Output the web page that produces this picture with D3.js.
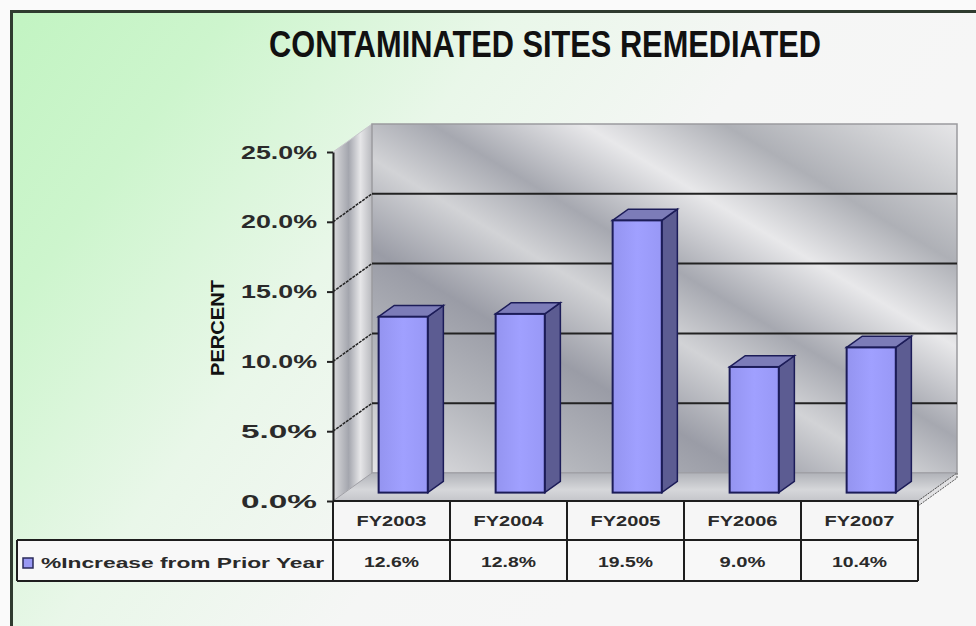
<!DOCTYPE html>
<html>
<head>
<meta charset="utf-8">
<script src="https://cdn.jsdelivr.net/npm/d3@7"></script>
<style>
  body { margin: 0; background: #fafafa; }
  text { font-family: "Liberation Sans", Arial, sans-serif; }
</style>
</head>
<body>
<script>
// Chart data
var years = ["FY2003", "FY2004", "FY2005", "FY2006", "FY2007"];
var increase = [12.6, 12.8, 19.5, 9.0, 10.4];
var yTicks = [0, 5, 10, 15, 20, 25];
var seriesName = "%Increase from Prior Year";
var title = "CONTAMINATED SITES REMEDIATED";

var W = 976, H = 626;
var DX = 39, DY = -28;          // 3D depth offset of the plot box
var f0 = 0.3, f1 = 0.7;         // bar front / back depth fractions
var fmt = function (d) { return d3.format(".1f")(d) + "%"; };

var svg = d3.select("body").append("svg")
    .attr("width", W)
    .attr("height", H);

var defs = svg.append("defs");

// Background gradient (green top-left fading to white)
var bg = defs.append("linearGradient").attr("id", "bg")
    .attr("x1", 0).attr("y1", 0).attr("x2", 0.85).attr("y2", 0.4);
bg.append("stop").attr("offset", 0).attr("stop-color", "#c2f4c2");
bg.append("stop").attr("offset", 0.22).attr("stop-color", "#cdf5cd");
bg.append("stop").attr("offset", 0.5).attr("stop-color", "#e9f7e9");
bg.append("stop").attr("offset", 0.78).attr("stop-color", "#f5f6f5");
bg.append("stop").attr("offset", 1).attr("stop-color", "#f6f6f6");

// Silver back wall
var wall = defs.append("linearGradient").attr("id", "wall")
    .attr("x1", 0).attr("y1", 1).attr("x2", 1).attr("y2", 0);
[[0, "#e4e4e6"], [0.18, "#b4b6bc"], [0.32, "#9a9ca6"], [0.45, "#d2d3d6"],
 [0.55, "#a6a8b0"], [0.68, "#e8e8ea"], [0.8, "#aeb0b6"], [0.92, "#d0d1d4"], [1, "#e6e6e8"]]
  .forEach(function (s) { wall.append("stop").attr("offset", s[0]).attr("stop-color", s[1]); });

var side = defs.append("linearGradient").attr("id", "side")
    .attr("x1", 0).attr("y1", 0).attr("x2", 1).attr("y2", 0);
[[0, "#dcdcde"], [0.4, "#a4a6ae"], [0.7, "#e6e6e8"], [1, "#b8b9be"]]
  .forEach(function (s) { side.append("stop").attr("offset", s[0]).attr("stop-color", s[1]); });

var floor = defs.append("linearGradient").attr("id", "floor")
    .attr("x1", 0).attr("y1", 0).attr("x2", 0).attr("y2", 1);
floor.append("stop").attr("offset", 0).attr("stop-color", "#b0b2b8");
floor.append("stop").attr("offset", 0.6).attr("stop-color", "#d6d7da");
floor.append("stop").attr("offset", 1).attr("stop-color", "#c4c5ca");

var barGrad = defs.append("linearGradient").attr("id", "barFront")
    .attr("x1", 0).attr("y1", 0).attr("x2", 1).attr("y2", 0);
barGrad.append("stop").attr("offset", 0).attr("stop-color", "#9494f0");
barGrad.append("stop").attr("offset", 0.5).attr("stop-color", "#a0a0ff");
barGrad.append("stop").attr("offset", 1).attr("stop-color", "#9898f6");

// Background and frame
svg.append("rect").attr("x", 11).attr("y", 11).attr("width", W - 11).attr("height", H - 11)
    .attr("fill", "url(#bg)");
svg.append("path")
    .attr("d", "M" + W + ",11.5 H11.5 V" + H)
    .attr("fill", "none").attr("stroke", "#2f3b2f").attr("stroke-width", 3);

// Title
svg.append("text")
    .attr("x", 545).attr("y", 57)
    .attr("text-anchor", "middle")
    .attr("textLength", 552).attr("lengthAdjust", "spacingAndGlyphs")
    .style("font-family", "'Liberation Sans Narrow', 'Arial Narrow', sans-serif")
    .style("font-weight", "bold").style("font-size", "37px")
    .attr("fill", "#111")
    .text(title);

// Scales
var x = d3.scaleBand().domain(years).range([333, 918]);
var y = d3.scaleLinear().domain([0, 25]).range([501, 152]);
var xL = x.range()[0], xR = x.range()[1];

function pts(a) { return a.map(function (p) { return p.join(","); }).join(" "); }

// Side wall
svg.append("polygon")
    .attr("points", pts([[xL, y(25)], [xL + DX, y(25) + DY], [xL + DX, y(0) + DY], [xL, y(0)]]))
    .attr("fill", "url(#side)").attr("stroke", "#c8c8cc").attr("stroke-width", 1);

// Back wall
svg.append("rect")
    .attr("x", xL + DX).attr("y", y(25) + DY)
    .attr("width", xR - xL).attr("height", y(0) - y(25))
    .attr("fill", "url(#wall)").attr("stroke", "#9a9a9e").attr("stroke-width", 1.5);

// Floor
svg.append("polygon")
    .attr("points", pts([[xL, y(0)], [xL + DX, y(0) + DY], [xR + DX, y(0) + DY], [xR, y(0)]]))
    .attr("fill", "url(#floor)").attr("stroke", "#a0a0a6").attr("stroke-width", 1);
svg.append("polygon")
    .attr("points", pts([[xR, y(0)], [xR + DX, y(0) + DY], [xR + DX, y(0) + DY + 5], [xR, y(0) + 5]]))
    .attr("fill", "#e2e2e4").attr("stroke", "#555").attr("stroke-width", 1).attr("stroke-dasharray", "2,1");

// Gridlines on back wall and side wall
var grid = svg.append("g");
yTicks.filter(function (d) { return d > 0 && d < 25; }).forEach(function (d) {
  grid.append("line")
      .attr("x1", xL + DX).attr("x2", xR + DX)
      .attr("y1", y(d) + DY).attr("y2", y(d) + DY)
      .attr("stroke", "#222").attr("stroke-width", 2);
  grid.append("line")
      .attr("x1", xL).attr("x2", xL + DX)
      .attr("y1", y(d)).attr("y2", y(d) + DY)
      .attr("stroke", "#222").attr("stroke-width", 1.5).attr("stroke-dasharray", "3,1");
});

// Bars
var barW = x.bandwidth() * 0.42;
var bdx = (f1 - f0) * DX, bdy = (f1 - f0) * DY;
var bars = svg.append("g").selectAll("g")
    .data(increase)
    .join("g");

bars.each(function (v, i) {
  var g = d3.select(this);
  var x0 = x(years[i]) + (x.bandwidth() - barW) / 2 + f0 * DX;
  var x1 = x0 + barW;
  var top = y(v) + f0 * DY;
  var bot = y(0) + f0 * DY;
  g.append("polygon")
      .attr("points", pts([[x1, top], [x1 + bdx, top + bdy], [x1 + bdx, bot + bdy], [x1, bot]]))
      .attr("fill", "#5c5c92").attr("stroke", "#1c1c58").attr("stroke-width", 1.5);
  g.append("polygon")
      .attr("points", pts([[x0, top], [x0 + bdx, top + bdy], [x1 + bdx, top + bdy], [x1, top]]))
      .attr("fill", "#7c7cb8").attr("stroke", "#1c1c58").attr("stroke-width", 1.5);
  g.append("rect")
      .attr("x", x0).attr("y", top)
      .attr("width", barW).attr("height", bot - top)
      .attr("fill", "url(#barFront)").attr("stroke", "#1c1c58").attr("stroke-width", 2);
});

// Y axis
var yAxis = svg.append("g")
    .attr("transform", "translate(" + xL + ",0)")
    .call(d3.axisLeft(y).tickValues(yTicks).tickFormat(fmt).tickSize(6).tickSizeOuter(0).tickPadding(10));
yAxis.select(".domain").attr("stroke", "#222").attr("stroke-width", 2);
yAxis.selectAll(".tick line").attr("stroke", "#222").attr("stroke-width", 2);
yAxis.selectAll(".tick text")
    .attr("fill", "#2a2a2a")
    .attr("textLength", 76).attr("lengthAdjust", "spacingAndGlyphs")
    .style("font-size", "19px").style("font-weight", "bold")
    .style("font-family", "'Liberation Sans', Arial, sans-serif");

// Y axis title
svg.append("text")
    .attr("transform", "translate(224,328) rotate(-90)")
    .attr("text-anchor", "middle")
    .attr("textLength", 96).attr("lengthAdjust", "spacingAndGlyphs")
    .style("font-family", "'Liberation Sans Narrow', 'Arial Narrow', sans-serif")
    .style("font-weight", "bold").style("font-size", "19px")
    .attr("fill", "#111")
    .text("PERCENT");

// Data table
var rowTop = y(0), rowMid = 540, rowBot = 581, tableLeft = 17;
var table = svg.append("g");
table.append("rect")
    .attr("x", xL).attr("y", rowTop).attr("width", xR - xL).attr("height", rowMid - rowTop)
    .attr("fill", "#f6f6f6");
table.append("rect")
    .attr("x", tableLeft).attr("y", rowMid).attr("width", xR - tableLeft).attr("height", rowBot - rowMid)
    .attr("fill", "#f8f8f8");

var tl = function (x1, y1, x2, y2) {
  table.append("line").attr("x1", x1).attr("y1", y1).attr("x2", x2).attr("y2", y2)
      .attr("stroke", "#1e1e1e").attr("stroke-width", 2);
};
tl(xL, rowTop, xR, rowTop);
tl(tableLeft, rowMid, xR, rowMid);
tl(tableLeft, rowBot, xR, rowBot);
tl(tableLeft, rowMid, tableLeft, rowBot);
years.forEach(function (d) { tl(x(d), rowTop, x(d), rowBot); });
tl(xR, rowTop, xR, rowBot);

table.selectAll(".hdr").data(years).join("text")
    .attr("class", "hdr")
    .attr("x", function (d) { return x(d) + x.bandwidth() / 2; })
    .attr("y", 526)
    .attr("text-anchor", "middle")
    .attr("textLength", 70).attr("lengthAdjust", "spacingAndGlyphs")
    .style("font-size", "15px").style("font-weight", "bold")
    .attr("fill", "#2a2a2a")
    .text(function (d) { return d; });

table.selectAll(".val").data(increase).join("text")
    .attr("class", "val")
    .attr("x", function (d, i) { return x(years[i]) + x.bandwidth() / 2; })
    .attr("y", 567)
    .attr("text-anchor", "middle")
    .attr("textLength", function (d) { return fmt(d).length > 4 ? 55 : 46; })
    .attr("lengthAdjust", "spacingAndGlyphs")
    .style("font-size", "15px").style("font-weight", "bold")
    .attr("fill", "#2a2a2a")
    .text(function (d) { return fmt(d); });

// Legend key and series name
table.append("rect")
    .attr("x", 23).attr("y", 558).attr("width", 10).attr("height", 10)
    .attr("fill", "#9999f4").attr("stroke", "#2a2a5a").attr("stroke-width", 1.5);
table.append("text")
    .attr("x", 41).attr("y", 568)
    .attr("textLength", 283).attr("lengthAdjust", "spacingAndGlyphs")
    .style("font-size", "15px").style("font-weight", "bold")
    .attr("fill", "#2a2a2a")
    .text(seriesName);
</script>
</body>
</html>
